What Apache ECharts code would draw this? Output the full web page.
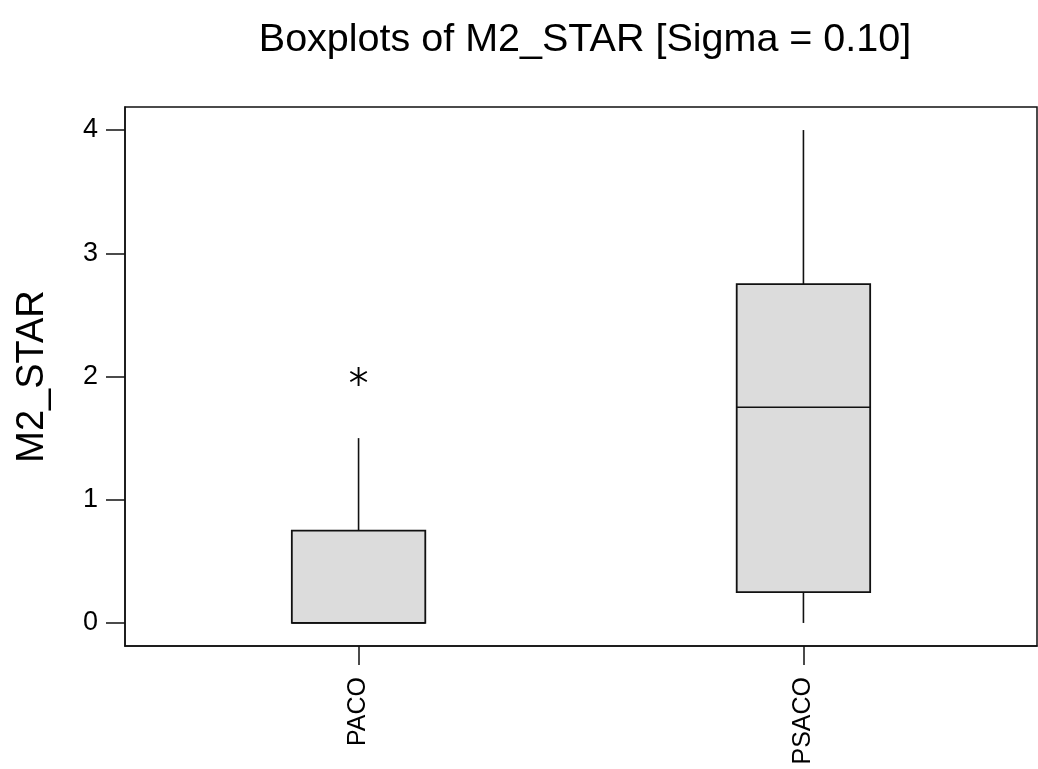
<!DOCTYPE html>
<html>
<head>
<meta charset="utf-8">
<script src="https://cdn.jsdelivr.net/npm/echarts@6/dist/echarts.min.js"></script>
<style>
html,body{margin:0;padding:0;background:#fff;}
#chart{width:1038px;height:769px;}
</style>
</head>
<body>
<div id="chart"></div>
<script>
const categories = ['PACO', 'PSACO'];
const categoryPositions = [1, 2];
const whiskerLow = [0, 0];
const q1 = [0, 0.25];
const median = [0, 1.75];
const q3 = [0.75, 2.75];
const whiskerHigh = [1.5, 4];
const outlierCategory = [0];
const outlierValue = [2];
const yTicks = [0, 1, 2, 3, 4];

const boxData = categoryPositions.map((x, i) => [x, whiskerLow[i], q1[i], median[i], q3[i], whiskerHigh[i]]);
const outlierData = outlierCategory.map((c, i) => [categoryPositions[c], outlierValue[i]]);

const FONT = 'Liberation Sans, Arial, sans-serif';
const INK = '#111';

const chart = echarts.init(document.getElementById('chart'), null, {renderer: 'canvas'});
chart.setOption({
  backgroundColor: '#fff',
  animation: false,
  title: {
    text: 'Boxplots of M2_STAR [Sigma = 0.10]',
    left: 580, top: 15, textAlign: 'center',
    textStyle: {fontFamily: FONT, fontSize: 39.5, fontWeight: 'normal', color: '#000'}
  },
  grid: {left: 125, right: 1, top: 107, bottom: 123, show: true, borderColor: INK, borderWidth: 1.5, backgroundColor: 'transparent'},
  xAxis: {
    type: 'value', min: 0.475, max: 2.525,
    axisLine: {show: true, onZero: false, lineStyle: {color: INK, width: 1.5}},
    axisTick: {show: true, length: 19, customValues: categoryPositions, lineStyle: {color: INK, width: 1.5}},
    axisLabel: {show: true, rotate: 90, margin: 31, customValues: categoryPositions,
      formatter: v => categories[categoryPositions.indexOf(v)] || '',
      fontFamily: FONT, fontSize: 25, color: '#000'},
    splitLine: {show: false}
  },
  yAxis: {
    type: 'value', min: -0.187, max: 4.187,
    name: 'M2_STAR', nameLocation: 'middle', nameGap: 73, nameRotate: 90,
    nameTextStyle: {fontFamily: FONT, fontSize: 38, color: '#000'},
    axisLine: {show: true, onZero: false, lineStyle: {color: INK, width: 1.5}},
    axisTick: {show: true, length: 19, customValues: yTicks, lineStyle: {color: INK, width: 1.5}},
    axisLabel: {show: true, margin: 27, customValues: yTicks, fontFamily: FONT, fontSize: 27, color: '#000'},
    splitLine: {show: false}
  },
  series: [
    {
      type: 'custom',
      data: boxData,
      renderItem: function (params, api) {
        const x = api.value(0);
        const lo = api.value(1), a = api.value(2), m = api.value(3), b = api.value(4), hi = api.value(5);
        const w = api.size([0.3, 0])[0];
        const pLo = api.coord([x, lo]), pA = api.coord([x, a]), pM = api.coord([x, m]), pB = api.coord([x, b]), pHi = api.coord([x, hi]);
        const st = {stroke: INK, lineWidth: 1.6};
        const children = [];
        if (hi > b) children.push({type: 'line', shape: {x1: pB[0], y1: pB[1], x2: pHi[0], y2: pHi[1]}, style: st});
        if (lo < a) children.push({type: 'line', shape: {x1: pLo[0], y1: pLo[1], x2: pA[0], y2: pA[1]}, style: st});
        children.push({type: 'rect', shape: {x: pA[0] - w / 2, y: pB[1], width: w, height: pA[1] - pB[1]},
          style: {fill: '#dcdcdc', stroke: INK, lineWidth: 1.8}});
        children.push({type: 'line', shape: {x1: pM[0] - w / 2, y1: pM[1], x2: pM[0] + w / 2, y2: pM[1]}, style: st});
        return {type: 'group', children: children};
      }
    },
    {
      type: 'custom',
      data: outlierData,
      renderItem: function (params, api) {
        const p = api.coord([api.value(0), api.value(1)]);
        const r = 9.5;
        const st = {stroke: '#000', lineWidth: 1.9};
        const dx = r * Math.cos(Math.PI / 6), dy = r * Math.sin(Math.PI / 6);
        return {type: 'group', children: [
          {type: 'line', shape: {x1: p[0], y1: p[1] - r, x2: p[0], y2: p[1] + r}, style: st},
          {type: 'line', shape: {x1: p[0] - dx, y1: p[1] - dy, x2: p[0] + dx, y2: p[1] + dy}, style: st},
          {type: 'line', shape: {x1: p[0] - dx, y1: p[1] + dy, x2: p[0] + dx, y2: p[1] - dy}, style: st}
        ]};
      }
    }
  ]
});
</script>
</body>
</html>
